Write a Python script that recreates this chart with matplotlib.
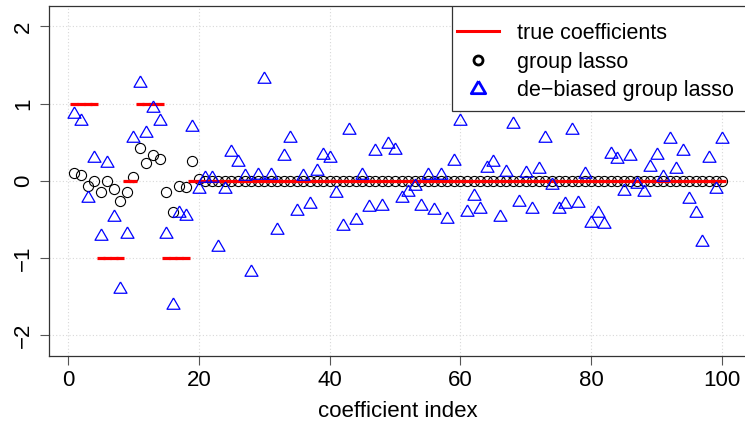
import matplotlib.pyplot as plt
from matplotlib.lines import Line2D
from matplotlib.patches import Rectangle

plt.rcParams['font.family'] = ['Liberation Sans', 'DejaVu Sans']

idx = list(range(1, 101))
true_coef = [1] * 4 + [-1] * 4 + [0] * 2 + [1] * 4 + [-1] * 4 + [0] * 82
group_lasso = [0.10, 0.08, -0.07, 0.00, -0.15, 0.00, -0.11, -0.26, -0.15, 0.05,
               0.42, 0.23, 0.33, 0.28, -0.15, -0.40, -0.07, -0.08, 0.26, 0.03] + [0] * 80
debiased = [0.87, 0.77, -0.22, 0.29, -0.71, 0.23, -0.47, -1.40, -0.69, 0.56,
            1.27, 0.62, 0.94, 0.78, -0.69, -1.61, -0.42, -0.46, 0.70, -0.10,
            0.04, 0.04, -0.85, -0.11, 0.37, 0.24, 0.06, -1.18, 0.08, 1.32,
            0.07, -0.63, 0.32, 0.56, -0.39, 0.06, -0.30, 0.13, 0.34, 0.30,
            -0.16, -0.59, 0.66, -0.51, 0.08, -0.34, 0.39, -0.32, 0.48, 0.40,
            -0.22, -0.14, -0.07, -0.33, 0.08, -0.38, 0.08, -0.49, 0.26, 0.77,
            -0.40, -0.20, -0.36, 0.17, 0.25, -0.47, 0.12, 0.73, -0.27, 0.10,
            -0.36, 0.16, 0.56, -0.05, -0.36, -0.30, 0.66, -0.29, 0.09, -0.54,
            -0.42, -0.56, 0.35, 0.28, -0.13, 0.32, -0.04, -0.14, 0.18, 0.33,
            0.05, 0.54, 0.15, 0.39, -0.24, -0.41, -0.79, 0.29, -0.10, 0.54]

# R style triangle (point at circumcentre)
tri = [(0, 1), (-0.866, -0.5), (0.866, -0.5), (0, 1)]

fig = plt.figure(figsize=(7.45, 4.25), dpi=100)
ax = fig.add_axes([0.0652, 0.163, 0.9388, 0.8229])

ax.plot(idx, group_lasso, ls='none', marker='o', ms=7.3, mfc='none', mec='black', mew=0.8)
ax.plot(idx, true_coef, ls='none', marker='_', ms=5.5, mew=2.3, color='red')
ax.plot(idx, debiased, ls='none', marker=tri, ms=10.8, mfc='none', mec='blue', mew=0.9)

ax.set_xlim(-2.96, 103.96)
ax.set_ylim(-2.264, 2.264)
ax.set_xticks([0, 20, 40, 60, 80, 100])
ax.set_yticks([-2, -1, 0, 1, 2])
ax.set_yticklabels(['\u22122', '\u22121', '0', '1', '2'], rotation=90, va='center')
ax.grid(True, color='#d8d8d8', ls=(0, (1, 2)), lw=0.8)
ax.set_axisbelow(True)
ax.tick_params(length=6.3, width=0.8, color='#555555', labelsize=16)
ax.tick_params(axis='x', pad=4)
ax.tick_params(axis='y', pad=4)
for s in ax.spines.values():
    s.set_color('#333333')
    s.set_linewidth(0.9)
ax.set_xlabel('coefficient index', fontsize=16, labelpad=7)

# legend box (R style, flush with top right of plot region)
ax.add_patch(Rectangle((0.5768, 0.6998), 0.45, 0.3002, transform=ax.transAxes,
                       facecolor='white', edgecolor='#333333', lw=0.9, zorder=5))

handles = [Line2D([], [], color='red', lw=2.2),
           Line2D([], [], ls='none', marker='o', ms=6.5, mfc='none', mec='black', mew=2),
           Line2D([], [], ls='none', marker=tri, ms=12, mfc='none', mec='blue', mew=2)]
leg = ax.legend(handles, ['true coefficients', 'group lasso', 'de\u2212biased group lasso'],
                loc='upper left', bbox_to_anchor=(0.584, 0.9514), borderaxespad=0,
                fontsize=15.5, frameon=False, handlelength=1.95, handletextpad=0.85,
                labelspacing=0.36, borderpad=0)
leg.set_zorder(6)

plt.savefig('out.png', dpi=100)
